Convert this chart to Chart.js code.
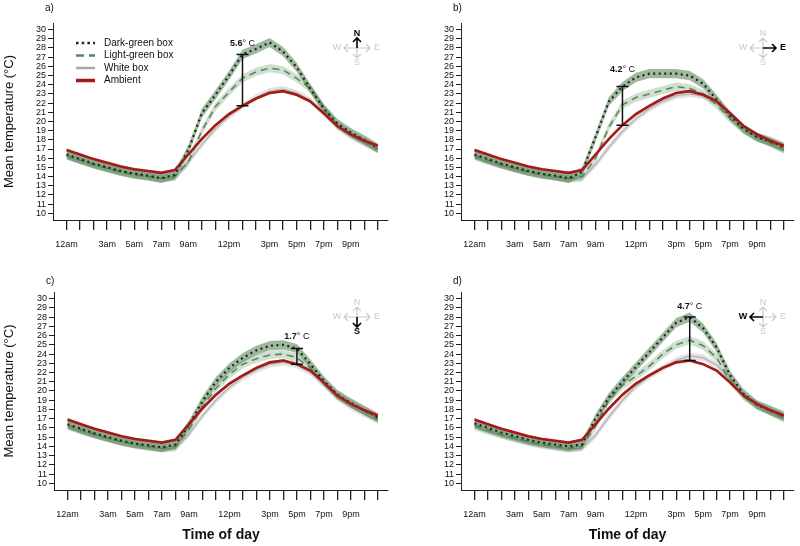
<!DOCTYPE html>
<html lang="en">
<head>
<meta charset="UTF-8">
<title>Mean temperature by time of day</title>
<script src="https://cdn.jsdelivr.net/npm/chart.js"></script>
<style>
  body { margin: 0; background: #fff; }
  #wrap { position: relative; width: 800px; height: 546px; }
  #wrap canvas { position: absolute; }
</style>
</head>
<body>
<div id="wrap">
  <canvas id="panelA" width="400" height="273" style="left:0;top:0"></canvas>
  <canvas id="panelB" width="400" height="273" style="left:400px;top:0"></canvas>
  <canvas id="panelC" width="400" height="273" style="left:0;top:273px"></canvas>
  <canvas id="panelD" width="400" height="273" style="left:400px;top:273px"></canvas>
</div>
<script>
// hours of the day, 0 = midnight
const hours = [0,1,2,3,4,5,6,7,8,9,10,11,12,13,14,15,16,17,18,19,20,21,22,23];
const tickHours = [0,3,5,7,9,12,15,17,19,21];
const tickNames = ['12am','3am','5am','7am','9am','12pm','3pm','5pm','7pm','9pm'];
const yTicks = [10,11,12,13,14,15,16,17,18,19,20,21,22,23,24,25,26,27,28,29,30];

const seriesNames = ['Dark-green box', 'Light-green box', 'White box', 'Ambient'];

// ambient is the same in every panel
const ambient = [16.9,16.4,15.9,15.5,15.1,14.8,14.6,14.4,14.7,16.4,18.1,19.6,20.8,21.7,22.5,23.1,23.3,22.9,22.2,20.9,19.5,18.6,17.9,17.35];

// a) north
const whiteA = [16.2,15.7,15.3,14.9,14.6,14.3,14.0,13.8,13.9,15.6,17.5,19.2,20.6,21.7,22.6,23.3,23.5,23.1,22.3,20.9,19.4,18.4,17.6,16.9];
const lightA = [16.3,15.8,15.3,14.9,14.5,14.2,14.0,13.8,14.0,15.6,19.0,21.6,23.2,24.7,25.4,25.8,25.6,24.7,23.6,21.5,19.6,18.6,17.8,17.0];
const darkA  = [16.4,15.9,15.4,15.0,14.6,14.3,14.1,13.8,14.2,16.9,20.9,22.9,25.0,27.3,27.9,28.6,27.6,25.9,23.6,21.4,19.8,18.8,18.0,17.1];
// b) east
const whiteB = [16.1,15.6,15.2,14.8,14.5,14.2,13.9,13.7,13.8,15.3,17.2,18.9,20.3,21.4,22.2,22.8,23.0,22.8,22.1,20.8,19.3,18.3,17.5,16.8];
const lightB = [16.3,15.8,15.3,14.9,14.5,14.2,14.0,13.8,14.0,16.0,19.4,21.8,22.6,23.0,23.4,23.8,23.6,23.0,21.8,20.3,19.1,18.3,17.7,17.0];
const darkB  = [16.4,15.9,15.4,15.0,14.6,14.3,14.1,13.8,14.5,18.3,22.2,23.8,24.8,25.2,25.2,25.2,25.0,24.1,22.4,20.6,19.2,18.3,17.8,17.2];
// c) south
const whiteC = [16.1,15.6,15.2,14.8,14.5,14.2,13.9,13.7,13.8,15.3,17.3,19.0,20.4,21.5,22.3,22.9,23.1,22.8,22.0,20.7,19.3,18.3,17.5,16.8];
const lightC = [16.3,15.8,15.3,14.9,14.5,14.2,14.0,13.8,14.0,15.8,18.3,20.3,21.8,22.9,23.5,23.9,24.0,23.6,22.5,20.9,19.5,18.6,17.8,17.0];
const darkC  = [16.4,15.9,15.4,15.0,14.6,14.3,14.1,13.9,14.2,16.3,18.9,21.0,22.5,23.6,24.4,24.9,25.0,24.6,22.9,21.1,19.6,18.7,17.9,17.1];
// d) west
const whiteD = [16.1,15.6,15.2,14.8,14.5,14.2,13.9,13.7,13.8,15.2,17.2,19.0,20.5,21.6,22.5,23.3,23.8,23.6,22.8,21.2,19.5,18.4,17.6,16.9];
const lightD = [16.3,15.8,15.3,14.9,14.5,14.2,14.0,13.8,14.0,16.2,19.0,20.6,21.6,22.7,24.0,25.0,25.5,24.9,23.6,21.1,19.4,18.5,17.8,17.1];
const darkD  = [16.5,16.0,15.5,15.1,14.7,14.4,14.2,14.0,14.2,17.0,19.3,21.0,22.6,24.2,25.8,27.4,28.0,26.8,24.7,21.7,19.7,18.5,17.9,17.3];

// half widths of the shaded bands
const darkSE = 0.5, lightSE = 0.45, whiteSE = 0.35, ambientSE = 0.15;
// hour where the max dark-green vs ambient difference is marked
const barHours = [13, 11, 17, 16];

Chart.defaults.font.family = '"Liberation Sans", Arial, sans-serif';
Chart.defaults.color = '#111';

const styles = {
  white: { band: 'rgba(185,185,185,0.4)',  color: '#b8b8b8', width: 1.5, dash: [] },
  light: { band: 'rgba(110,160,110,0.32)', color: '#5f835f', width: 1.6, dash: [7, 5] },
  dark:  { band: 'rgba(80,125,80,0.55)',   color: '#142814', width: 2.2, dash: [2, 3.5] },
  amb:   { band: 'rgba(210,110,110,0.45)', color: '#a31a1a', width: 2.6, dash: [] }
};

const pts = vals => hours.map((h, i) => ({ x: h, y: vals[i] }));

function seriesSets(vals, se, st) {
  return [
    { data: pts(vals.map(v => v + se)), borderColor: 'rgba(0,0,0,0)', borderWidth: 1, fill: false },
    { data: pts(vals.map(v => v - se)), borderColor: 'rgba(0,0,0,0)', borderWidth: 1, fill: '-1', backgroundColor: st.band },
    { data: pts(vals), borderColor: st.color, borderWidth: st.width, borderDash: st.dash, fill: false }
  ];
}

const font = (s, b) => (b ? 'bold ' : '') + s + 'px "Liberation Sans", Arial, sans-serif';

const decor = {
  id: 'decor',
  afterDraw(chart, args, o) {
    const { ctx, chartArea: a, scales: { x, y } } = chart;
    ctx.save();
    ctx.textBaseline = 'middle';

    // panel letter
    ctx.fillStyle = '#111';
    ctx.font = font(10);
    ctx.textAlign = 'left';
    ctx.fillText(o.letter, a.left - 8, 8);

    // difference bar
    const bx = x.getPixelForValue(o.hour);
    const yT = y.getPixelForValue(o.top), yB = y.getPixelForValue(o.bottom);
    ctx.strokeStyle = '#111';
    ctx.lineWidth = 1.5;
    ctx.beginPath();
    ctx.moveTo(bx, yT); ctx.lineTo(bx, yB);
    ctx.moveTo(bx - 6, yT); ctx.lineTo(bx + 6, yT);
    ctx.moveTo(bx - 6, yB); ctx.lineTo(bx + 6, yB);
    ctx.stroke();
    const num = (o.top - o.bottom).toFixed(1), unit = '° C';
    ctx.font = font(9, true);
    const w1 = ctx.measureText(num).width;
    ctx.font = font(9);
    const w2 = ctx.measureText(unit).width;
    const lx = bx - (w1 + w2) / 2, ly = yT - o.gap;
    ctx.font = font(9, true);
    ctx.fillText(num, lx, ly);
    ctx.font = font(9);
    ctx.fillText(unit, lx + w1, ly);

    // compass
    const cx = a.right - 31, cy = a.top + 25;
    const dirs = { N: [0, -1], S: [0, 1], E: [1, 0], W: [-1, 0] };
    const drawDir = (k, col, lw, bold) => {
      const [dx, dy] = dirs[k];
      const len = dx ? 13 : 10, h = 4;
      const ex = cx + dx * len, ey = cy + dy * len;
      ctx.strokeStyle = col;
      ctx.lineWidth = lw;
      ctx.beginPath();
      ctx.moveTo(cx, cy); ctx.lineTo(ex, ey);
      ctx.moveTo(ex - dx * h - dy * h, ey - dy * h - dx * h);
      ctx.lineTo(ex, ey);
      ctx.lineTo(ex - dx * h + dy * h, ey - dy * h + dx * h);
      ctx.stroke();
      ctx.fillStyle = col;
      ctx.font = font(9, bold);
      ctx.textAlign = 'center';
      const off = dx ? 20 : 14.5;
      ctx.fillText(k, cx + dx * off, cy + dy * off);
    };
    Object.keys(dirs).forEach(k => { if (k !== o.dir) drawDir(k, '#c9c9c9', 1.2, false); });
    drawDir(o.dir, '#000', 1.6, true);

    // legend (panel a only)
    if (o.legend) {
      const keys = ['dark', 'light', 'white', 'amb'];
      keys.forEach((k, i) => {
        const st = styles[k], ry = a.top + 20 + i * 12.5;
        ctx.strokeStyle = k === 'white' ? '#a8a8a8' : st.color;
        ctx.lineWidth = k === 'amb' ? 3.5 : (k === 'white' ? 2.5 : 2.4);
        ctx.setLineDash(k === 'light' ? [8, 5] : st.dash.length ? [2.5, 3.2] : []);
        ctx.beginPath();
        ctx.moveTo(a.left + 23, ry); ctx.lineTo(a.left + 42, ry);
        ctx.stroke();
        ctx.setLineDash([]);
        ctx.fillStyle = '#111';
        ctx.font = font(10);
        ctx.textAlign = 'left';
        ctx.fillText(seriesNames[i], a.left + 51, ry);
      });
    }
    ctx.restore();
  }
};

const panels = [
  { id: 'panelA', letter: 'a)', dir: 'N', white: whiteA, light: lightA, dark: darkA, gap: 11,
    yWidth: 53, xHeight: 53, padTop: 23, padRight: 12, left: true, bottom: false, legend: true },
  { id: 'panelB', letter: 'b)', dir: 'E', white: whiteB, light: lightB, dark: darkB, gap: 17,
    yWidth: 61, xHeight: 53, padTop: 23, padRight: 6, left: false, bottom: false, legend: false },
  { id: 'panelC', letter: 'c)', dir: 'S', white: whiteC, light: lightC, dark: darkC, gap: 12,
    yWidth: 54, xHeight: 56, padTop: 19, padRight: 12, left: true, bottom: true, legend: false },
  { id: 'panelD', letter: 'd)', dir: 'W', white: whiteD, light: lightD, dark: darkD, gap: 11,
    yWidth: 61, xHeight: 56, padTop: 19, padRight: 6, left: false, bottom: true, legend: false }
];

panels.forEach((p, idx) => {
  const sets = [].concat(
    seriesSets(p.white, whiteSE, styles.white),
    seriesSets(p.light, lightSE, styles.light),
    seriesSets(p.dark, darkSE, styles.dark),
    seriesSets(ambient, ambientSE, styles.amb)
  );
  // later datasets drawn on top
  sets.forEach((d, i) => {
    d.order = sets.length - i;
    d.pointRadius = 0;
    d.tension = 0;
  });
  const hr = barHours[idx];

  new Chart(document.getElementById(p.id), {
    type: 'line',
    data: { datasets: sets },
    options: {
      responsive: false,
      animation: false,
      layout: { padding: { top: p.padTop, right: p.padRight, left: 0, bottom: 0 } },
      plugins: {
        legend: { display: false },
        tooltip: { enabled: false },
        decor: { letter: p.letter, dir: p.dir, hour: hr, top: p.dark[hr], bottom: ambient[hr], gap: p.gap, legend: p.legend }
      },
      scales: {
        x: {
          type: 'linear', min: -1, max: 23.75,
          afterBuildTicks: ax => { ax.ticks = hours.map(h => ({ value: h })); },
          afterFit: ax => { ax.height = p.xHeight; },
          ticks: {
            autoSkip: false, maxRotation: 0, padding: 9, color: '#111', font: { size: 9 },
            callback: v => { const i = tickHours.indexOf(v); return i < 0 ? '' : tickNames[i]; }
          },
          grid: { drawOnChartArea: false, tickLength: 10, color: '#222', lineWidth: 1.3 },
          border: { color: '#222', width: 1 },
          title: { display: p.bottom, text: 'Time of day', color: '#111',
                   font: { size: 14, weight: 'bold' }, padding: { top: 0, bottom: 2 } }
        },
        y: {
          min: 9.27, max: 30.72,
          afterBuildTicks: ax => { ax.ticks = yTicks.map(v => ({ value: v })); },
          afterFit: ax => { ax.width = p.yWidth; },
          ticks: { autoSkip: false, padding: 2, color: '#111', font: { size: 9 } },
          grid: { drawOnChartArea: false, tickLength: 5, color: '#222' },
          border: { color: '#222', width: 1 },
          title: { display: p.left, text: 'Mean temperature (°C)', color: '#111',
                   font: { size: 13 }, padding: { top: 2, bottom: 0 } }
        }
      }
    },
    plugins: [decor]
  });
});
</script>
</body>
</html>
